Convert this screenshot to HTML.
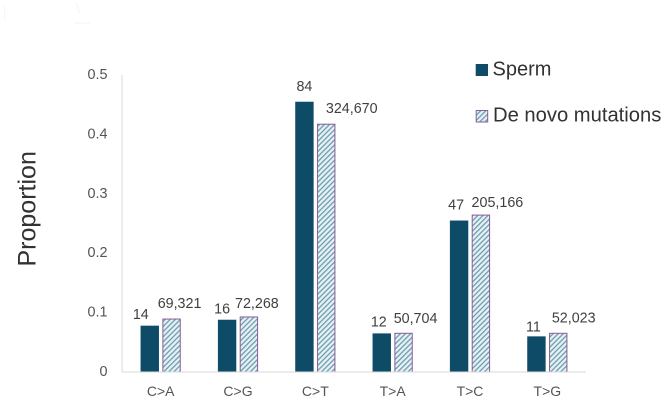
<!DOCTYPE html>
<html lang="en">
<head>
<meta charset="utf-8">
<title>Proportion of mutation types</title>
<style>
html,body{margin:0;padding:0;background:#fff;width:669px;height:401px;overflow:hidden}
svg{display:block;font-family:"Liberation Sans",Arial,sans-serif}
</style>
</head>
<body>
<svg id="chart" width="669" height="401" viewBox="0 0 669 401" xmlns="http://www.w3.org/2000/svg">
  <defs>
    <pattern id="hatch" patternUnits="userSpaceOnUse" width="3.6" height="3.6" patternTransform="rotate(45)">
      <rect width="3.6" height="3.6" fill="#e4f0f4"></rect>
      <rect x="0" width="1.3" height="3.6" fill="#6f9fb0"></rect>
    </pattern>
    <filter id="soften" x="-2%" y="-2%" width="104%" height="104%">
      <feGaussianBlur stdDeviation="0.3"></feGaussianBlur>
    </filter>
  </defs>
  <g filter="url(#soften)">
    <g stroke="#f6f6f6" stroke-width="1" fill="none">
      <path d="M4.500 5V20"></path>
      <path d="M76 2L80 14M74 23H90"></path>
    </g>
    <text transform="translate(35.500,266.500) rotate(-90)" font-size="25" fill="#333">Proportion</text>
    <g id="plot"></g>
    <g>
      <g>
        <rect x="475.700" y="64" width="12.300" height="12" fill="#114b66"></rect>
        <text x="492.500" y="75.700" font-size="20" fill="#333">Sperm</text>
      </g>
      <g>
        <rect x="476.200" y="110.500" width="11.500" height="11.500" fill="url(#hatch)" stroke="#8d5c95" stroke-width="1"></rect>
        <text x="493" y="121.700" font-size="20.200" fill="#333">De novo mutations</text>
      </g>
    </g>
  </g>
</svg>
<script>
const categories = ["C>A", "C>G", "C>T", "T>A", "T>C", "T>G"];
const spermValues = [0.078, 0.088, 0.455, 0.065, 0.255, 0.06];
const deNovoValues = [0.09, 0.0935, 0.418, 0.066, 0.265, 0.066];
const spermCounts = ["14", "16", "84", "12", "47", "11"];
const deNovoCounts = ["69,321", "72,268", "324,670", "50,704", "205,166", "52,023"];
const yTicks = [0, 0.1, 0.2, 0.3, 0.4, 0.5];
const yTickLabels = ["0", "0.1", "0.2", "0.3", "0.4", "0.5"];

const NS = "http://www.w3.org/2000/svg";
const plot = document.getElementById("plot");
const left = 122, right = 586, baseY = 372, unit = 594;
const barW = 18.4, barGap = 3.4;
const bandW = (right - left) / categories.length;
function yScale(v) { return baseY - v * unit; }
function xCenter(i) { return left + bandW * (i + 0.5); }

function make(tag, attrs, text) {
  const el = document.createElementNS(NS, tag);
  for (const k in attrs) el.setAttribute(k, attrs[k]);
  if (text !== undefined) el.textContent = text;
  plot.appendChild(el);
  return el;
}

/* hand-placed label nudges from the source figure, relative to each bar */
const spermNudge = [[-9, 11.5], [-5, 11], [0, 15.5], [-3, 12], [-3, 16], [-3, 10]];
const deNovoNudge = [[8, 15.500], [8, 13.500], [25.500, 15.500], [12, 15], [16.500, 12.500], [15.500, 15.500]];

yTicks.forEach(function (t, i) {
  const label = make("text", { x: 107.5, y: yScale(t) + 4, "text-anchor": "end", "font-size": 14.4, fill: "#555" }, yTickLabels[i]);
  
  
});

const yAxis = make("line", { x1: left, x2: left, y1: yScale(0.5), y2: baseY, stroke: "#d9d9d9", "stroke-width": 1 });



categories.forEach(function (c, i) {
  const cx = xCenter(i);
  const sx = cx - barGap / 2 - barW;
  const dx = cx + barGap / 2;
  const sTop = yScale(spermValues[i]);
  const dTop = yScale(deNovoValues[i]);

  const sBar = make("rect", { x: sx, y: sTop, width: barW, height: baseY - sTop, fill: "#114b66" });
  
  

  const dBar = make("rect", { x: dx + 0.5, y: dTop + 0.5, width: barW - 1, height: Math.max(0, baseY - dTop - 0.5), fill: "url(#hatch)", stroke: "#8d5c95", "stroke-width": 1 });
  
  

  const sLabel = make("text", { x: sx + barW / 2 + spermNudge[i][0], y: sTop - spermNudge[i][1] + 5, "text-anchor": "middle", "font-size": 14.3, fill: "#404040" }, spermCounts[i]);
  
  

  const dLabel = make("text", { x: dx + barW / 2 + deNovoNudge[i][0], y: dTop - deNovoNudge[i][1] + 5, "text-anchor": "middle", "font-size": 14.3, fill: "#404040" }, deNovoCounts[i]);
  
  

  const cLabel = make("text", { x: cx, y: 396, "text-anchor": "middle", "font-size": 14, fill: "#555" }, c);
  
  
});

const xAxis = make("line", { x1: left, x2: right, y1: baseY, y2: baseY, stroke: "#d9d9d9", "stroke-width": 1 });


</script>
</body>
</html>
